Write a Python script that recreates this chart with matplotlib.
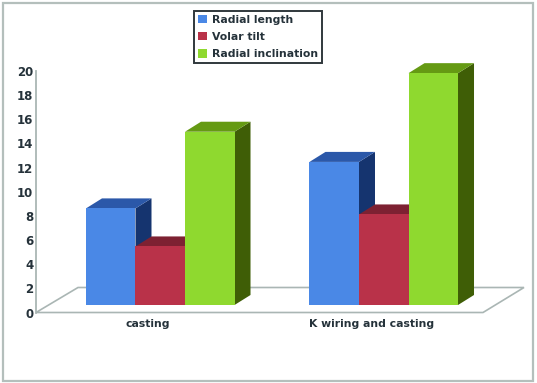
import matplotlib
matplotlib.use("Agg")
import matplotlib.pyplot as plt
from matplotlib.patches import Polygon, Rectangle
from matplotlib.transforms import Affine2D, IdentityTransform

categories = ["casting", "K wiring and casting"]
series_names = ["Radial length", "Volar tilt", "Radial inclination"]
radial_length = [8.0, 11.85]
volar_tilt = [4.85, 7.5]
radial_inclination = [14.35, 19.2]
y_ticks = list(range(0, 21, 2))

front_colors = ["#4a88e6", "#b93249", "#8fd92f"]
top_colors = ["#2b58a9", "#7d2132", "#659a13"]
side_colors = ["#15346f", "#6e1c2a", "#3f5e06"]
GRAY = "#aab6b4"
TEXT = "#25323a"

W, H = 537, 383
fig = plt.figure(figsize=(W / 100, H / 100), dpi=100, facecolor="white")
ax = fig.add_axes([36 / W, (H - 312.5) / H, 447 / W, 241.5 / H])
ax.set_xlim(-0.5, 1.5)
ax.set_ylim(0, 20)
ax.patch.set_alpha(0)
for s in ["top", "right", "bottom"]:
    ax.spines[s].set_visible(False)
ax.spines["left"].set_color(GRAY)
ax.spines["left"].set_linewidth(1.3)

# outer frame
fig.add_artist(Rectangle((3 / W, (H - 381) / H), 530 / W, 378.5 / H, transform=fig.transFigure,
                         fill=False, edgecolor="#b4bfbc", linewidth=1.6))

# floor (pixel offsets from the front edge of the value axis)
x0, y0 = ax.transData.transform((-0.5, 0))
x1, _ = ax.transData.transform((1.5, 0))
floor = [(x0, y0), (x1, y0), (x1 + 41, y0 + 25), (x0 + 42, y0 + 25)]
ax.add_patch(Polygon(floor, closed=True, fill=False, edgecolor=GRAY, linewidth=1.2,
                     transform=IdentityTransform(), clip_on=False, zorder=1))

BAR_W = 0.2215
OX, OY = 12.5, 7.5   # front face shift into the floor, pixels
DX, DY = 16, 10      # bar depth, pixels
offset = ax.transData + Affine2D().translate(OX, OY)

handles = []
z = 2
for i, vals in enumerate([radial_length, volar_tilt, radial_inclination]):
    for j, v in enumerate(vals):
        xc = j + (i - 1) * BAR_W
        (xl, yb) = offset.transform((xc - BAR_W / 2, 0))
        (xr, yt) = offset.transform((xc + BAR_W / 2, v))
        ax.add_patch(Polygon([(xr, yb), (xr + DX, yb + DY), (xr + DX, yt + DY), (xr, yt)],
                             closed=True, facecolor=side_colors[i], edgecolor="none",
                             transform=IdentityTransform(), clip_on=False, zorder=z))
        ax.add_patch(Polygon([(xl, yt), (xr, yt), (xr + DX, yt + DY), (xl + DX, yt + DY)],
                             closed=True, facecolor=top_colors[i], edgecolor="none",
                             transform=IdentityTransform(), clip_on=False, zorder=z))
    xs = [j + (i - 1) * BAR_W for j in range(len(vals))]
    bars = ax.bar(xs, vals, width=BAR_W, color=front_colors[i], transform=offset,
                  clip_on=False, zorder=z + 1, label=series_names[i])
    handles.append(bars)
    z += 2

ax.set_xlim(-0.5, 1.5)
ax.set_ylim(0, 20)
ax.set_yticks(y_ticks)
ax.set_xticks(range(len(categories)))
ax.set_xticklabels(categories)
ax.tick_params(axis="y", length=0, pad=2, labelsize=8.5, labelcolor=TEXT)
ax.tick_params(axis="x", length=0, pad=5, labelsize=7.8, labelcolor=TEXT)
for t in ax.get_yticklabels() + ax.get_xticklabels():
    t.set_fontweight("bold")

leg = ax.legend(handles=handles, labels=series_names, loc="upper left",
                bbox_to_anchor=(194 / W, (H - 11) / H), bbox_transform=fig.transFigure,
                fancybox=False, framealpha=1, edgecolor="#30383c",
                prop={"size": 7.8, "weight": "bold"}, labelcolor=TEXT,
                handlelength=0.8, handleheight=0.8, handletextpad=0.5,
                labelspacing=0.66, borderaxespad=0, borderpad=0.36)
leg.get_frame().set_linewidth(1.4)
leg.set_zorder(20)

fig.savefig("out.png", dpi=100)
